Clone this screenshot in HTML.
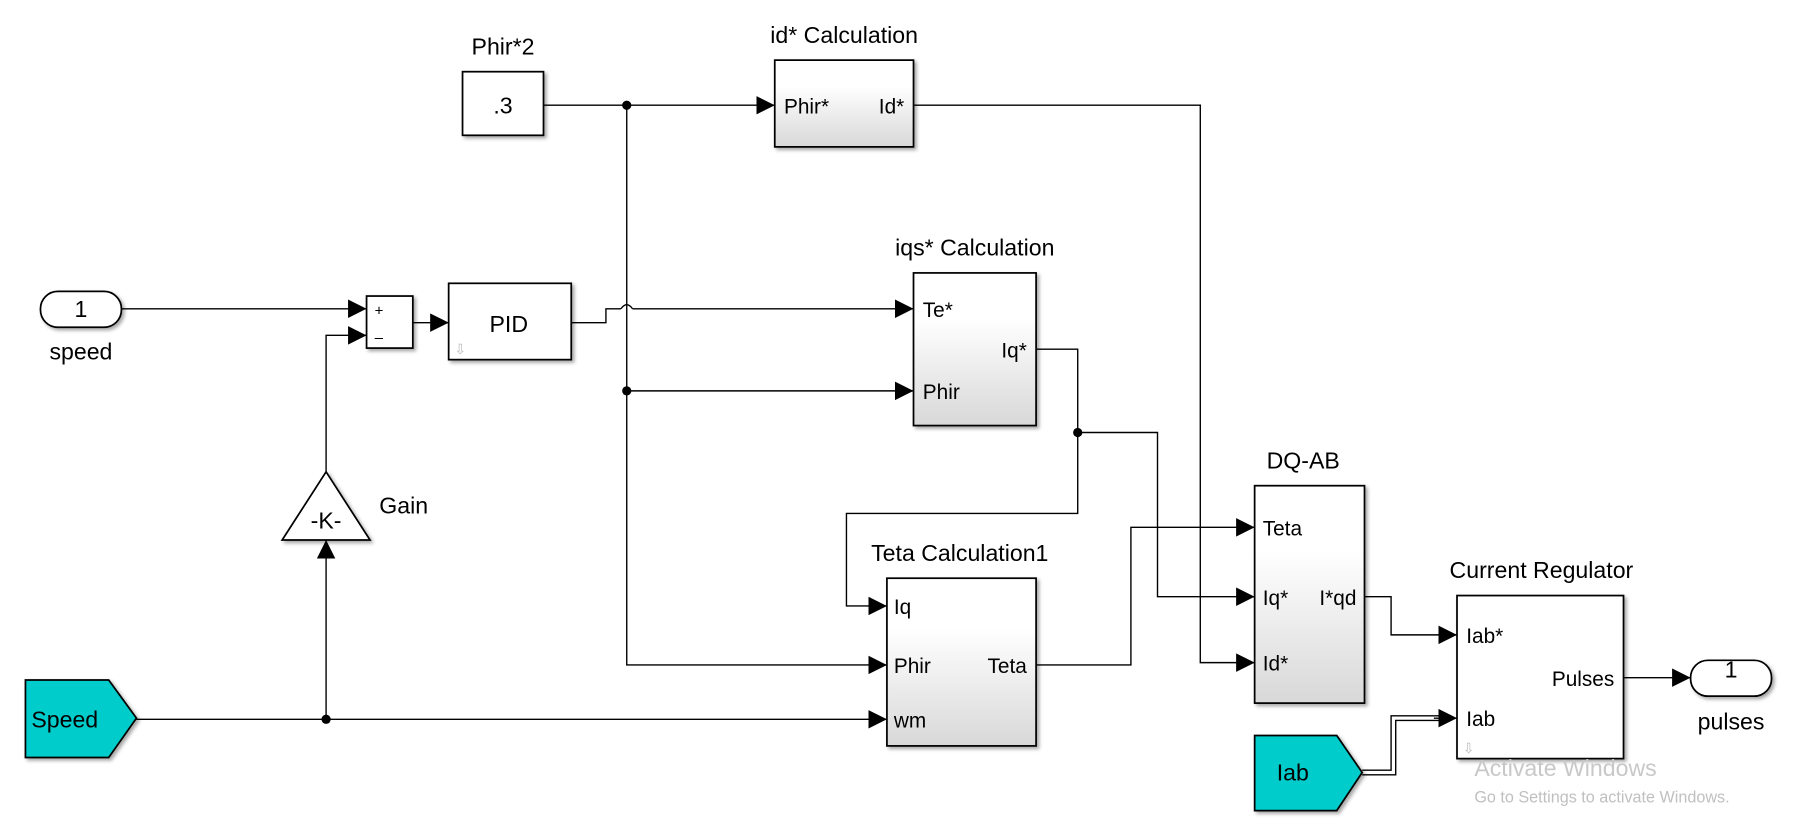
<!DOCTYPE html>
<html><head><meta charset="utf-8"><style>
html,body{margin:0;padding:0;background:#fff;overflow:hidden}
svg{display:block}
text{font-family:"Liberation Sans",Arial,sans-serif;fill:#000}
</style></head><body>
<svg width="1812" height="828" viewBox="0 0 1567 716" preserveAspectRatio="none" xmlns="http://www.w3.org/2000/svg">
<defs>
<linearGradient id="g" x1="0" y1="0" x2="0" y2="1"><stop offset="0.3" stop-color="#ffffff"/><stop offset="1" stop-color="#d8d8d8"/></linearGradient>
<filter id="sh" x="-10%" y="-10%" width="130%" height="130%"><feDropShadow dx="2" dy="2" stdDeviation="1.5" flood-color="#000" flood-opacity="0.35"/></filter>
<marker id="ab" viewBox="0 0 14 14" markerWidth="16" markerHeight="16" refX="14" refY="7" orient="auto" markerUnits="userSpaceOnUse"><path d="M0,0 L14,7 L0,14z" fill="#000"/></marker>
</defs>
<g fill="none" stroke="#000" stroke-width="1.2">
<path d="M470,91 H670" marker-end="url(#ab)"/>
<path d="M542,91 V575 H767" marker-end="url(#ab)"/>
<path d="M542,338 H790" marker-end="url(#ab)"/>
<path d="M790,91 H1038 V573 H1085" marker-end="url(#ab)"/>
<path d="M105,267 H317" marker-end="url(#ab)"/>
<path d="M282,408 V290 H317" marker-end="url(#ab)"/>
<path d="M357,279 H388" marker-end="url(#ab)"/>
<path d="M494,279 H524 V267 H537 M547,267 H790" marker-end="url(#ab)"/>
<path d="M537,267 Q542,260 547,267"/>
<path d="M118,622 H767" marker-end="url(#ab)"/>
<path d="M282,622 V467" marker-end="url(#ab)"/>
<path d="M896,302 H932 V444 H732 V524 H767" marker-end="url(#ab)"/>
<path d="M932,374 H1001 V516 H1085" marker-end="url(#ab)"/>
<path d="M896,575 H978 V456 H1085" marker-end="url(#ab)"/>
<path d="M1180,516 H1203 V549 H1260" marker-end="url(#ab)"/>
<path d="M1404,586 H1462" marker-end="url(#ab)"/>
<path d="M1178,666 H1203 V619 H1250 M1178,670 H1207 V623 H1250" />
<path d="M1240,621 H1260" marker-end="url(#ab)"/>
</g>
<g fill="#000"><circle cx="542" cy="91" r="4"/><circle cx="542" cy="338" r="4"/><circle cx="932" cy="374" r="4"/><circle cx="282" cy="622" r="4"/></g>
<g stroke="#000" stroke-width="1.5" filter="url(#sh)">
<rect x="400" y="62" width="70" height="55" fill="#fff"/>
<rect x="670" y="52" width="120" height="75" fill="url(#g)"/>
<rect x="790" y="236" width="106" height="132" fill="url(#g)"/>
<rect x="317" y="256" width="40" height="45" fill="#fff"/>
<rect x="388" y="245" width="106" height="66" fill="#fff"/>
<rect x="35" y="252" width="70" height="31" rx="15" fill="#fff"/>
<path d="M282,408 L320,467 L244,467z" fill="#fff"/>
<path d="M22,588 H94 L118,621 L94,655 H22z" fill="#00cccc"/>
<rect x="767" y="500" width="129" height="145" fill="url(#g)"/>
<rect x="1085" y="420" width="95" height="188" fill="url(#g)"/>
<rect x="1260" y="515" width="144" height="141" fill="#fff"/>
<rect x="1462" y="571" width="70" height="31" rx="15" fill="#fff"/>
<path d="M1085,636 H1156 L1178,668 L1156,701 H1085z" fill="#00cccc"/>
</g>
<g font-size="20">
<text x="435" y="47" text-anchor="middle">Phir*2</text>
<text x="435" y="98" text-anchor="middle">.3</text>
<text x="730" y="37" text-anchor="middle">id* Calculation</text>
<text x="678" y="98" font-size="18">Phir*</text>
<text x="782" y="98" font-size="18" text-anchor="end">Id*</text>
<text x="843" y="221" text-anchor="middle">iqs* Calculation</text>
<text x="798" y="274" font-size="18">Te*</text>
<text x="798" y="345" font-size="18">Phir</text>
<text x="888" y="309" font-size="18" text-anchor="end">Iq*</text>
<text x="440" y="287" text-anchor="middle">PID</text>
<text x="324" y="273" font-size="13">+</text>
<text x="324" y="296" font-size="13">–</text>
<text x="70" y="274" text-anchor="middle">1</text>
<text x="70" y="311" text-anchor="middle">speed</text>
<text x="282" y="457" text-anchor="middle">-K-</text>
<text x="328" y="444">Gain</text>
<text x="56" y="629" text-anchor="middle">Speed</text>
<text x="830" y="485" text-anchor="middle">Teta Calculation1</text>
<text x="773" y="531" font-size="18">Iq</text>
<text x="773" y="582" font-size="18">Phir</text>
<text x="773" y="629" font-size="18">wm</text>
<text x="888" y="582" font-size="18" text-anchor="end">Teta</text>
<text x="1127" y="405" text-anchor="middle">DQ-AB</text>
<text x="1092" y="463" font-size="18">Teta</text>
<text x="1092" y="523" font-size="18">Iq*</text>
<text x="1173" y="523" font-size="18" text-anchor="end">I*qd</text>
<text x="1092" y="580" font-size="18">Id*</text>
<text x="1333" y="500" text-anchor="middle">Current Regulator</text>
<text x="1268" y="556" font-size="18">Iab*</text>
<text x="1268" y="628" font-size="18">Iab</text>
<text x="1396" y="593" font-size="18" text-anchor="end">Pulses</text>
<text x="1497" y="586" text-anchor="middle">1</text>
<text x="1497" y="631" text-anchor="middle">pulses</text>
<text x="1118" y="675" text-anchor="middle">Iab</text>
</g>
<g font-size="12"><text x="393" y="306" style="fill:#bbb">⇩</text><text x="1265" y="651" style="fill:#bbb">⇩</text></g>
<text x="1275" y="671" font-size="20" style="fill:#c8c8c8">Activate Windows</text>
<text x="1275" y="694" font-size="14" style="fill:#c0c0c0">Go to Settings to activate Windows.</text>
</svg>
</body></html>
